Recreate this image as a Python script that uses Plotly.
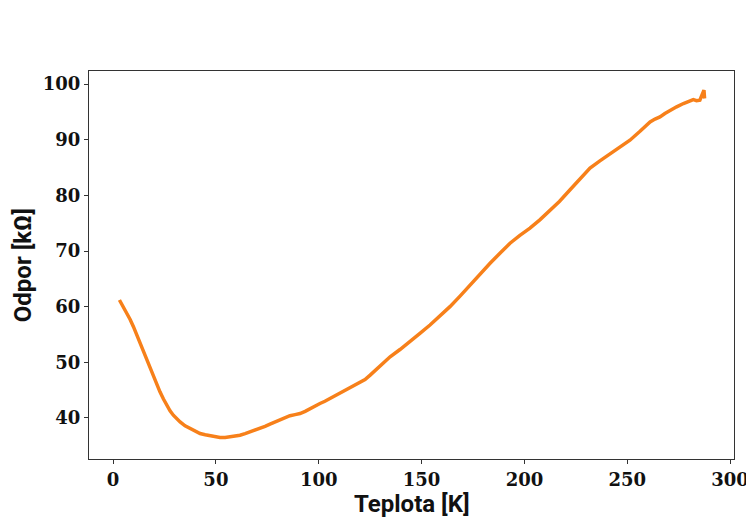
import plotly.graph_objects as go

# Temperature [K] and resistance [kOhm]
teplota = [3.1, 4.5, 6.6, 8.3, 9.9, 11.5, 13.1, 14.8, 16.4, 18.0, 19.6, 21.2, 22.8, 24.5,
           26.1, 27.7, 29.3, 31.0, 32.6, 35.0, 37.4, 40.0, 42.3, 44.8, 47.2, 49.5, 52.0,
           54.5, 56.9, 59.3, 61.7, 64.2, 66.6, 69.0, 71.5, 73.9, 76.3, 78.8, 81.2, 83.6,
           86.0, 88.5, 90.9, 93.4, 95.8, 98.2, 100.6, 103.0, 105.5, 108.0, 110.4, 112.8,
           115.2, 117.6, 120.1, 122.5, 125.0, 129.8, 134.7, 139.5, 144.4, 149.2, 154.1,
           159.0, 163.8, 168.7, 173.6, 178.4, 183.3, 188.1, 193.0, 197.8, 202.7, 207.5,
           212.4, 217.0, 222.2, 227.0, 231.9, 236.7, 241.6, 246.5, 251.3, 256.2, 261.1,
           263.5, 265.9, 268.3, 270.8, 274.0, 277.3, 279.7, 282.1, 283.7, 285.3, 286.3,
           287.3, 287.6]
odpor = [61.2, 60.3, 58.8, 57.7, 56.4, 54.9, 53.4, 51.9, 50.4, 48.9, 47.4, 46.0, 44.7, 43.4,
         42.3, 41.3, 40.5, 39.8, 39.3, 38.6, 38.1, 37.6, 37.2, 37.0, 36.8, 36.6, 36.5,
         36.5, 36.6, 36.7, 36.9, 37.2, 37.5, 37.8, 38.1, 38.5, 38.9, 39.3, 39.8, 40.1,
         40.4, 40.6, 40.8, 41.2, 41.7, 42.1, 42.6, 43.0, 43.5, 43.9, 44.4, 44.8,
         45.3, 45.8, 46.3, 46.9, 47.7, 49.3, 51.0, 52.3, 53.7, 55.2, 56.7,
         58.3, 60.0, 61.9, 63.9, 65.9, 67.8, 69.6, 71.4, 72.8, 74.1, 75.6,
         77.2, 78.9, 81.0, 82.9, 84.9, 86.2, 87.5, 88.7, 89.9, 91.5, 93.2,
         93.7, 94.1, 94.7, 95.3, 95.9, 96.5, 96.9, 97.2, 97.0, 97.1, 98.0,
         98.9, 97.4]

x_ticks = [0, 50, 100, 150, 200, 250, 300]
y_ticks = [40, 50, 60, 70, 80, 90, 100]

fig = go.Figure()
fig.add_trace(go.Scatter(x=teplota, y=odpor, mode="lines",
                         line=dict(color="#f7801a", width=3.5), showlegend=False))

tickfont = dict(family="DejaVu Serif", size=18, color="#111111", weight="bold")
axis_common = dict(showgrid=False, zeroline=False, showline=True, linecolor="#333333",
                   linewidth=1, mirror=True, ticks="outside", ticklen=4, tickwidth=1,
                   tickcolor="#333333", tickfont=tickfont, ticklabeloverflow="allow",
                   automargin=False)

fig.update_xaxes(range=[-11.7, 301.9], tickvals=x_ticks, ticktext=[str(v) for v in x_ticks],
                 **axis_common)
fig.update_yaxes(range=[32.63, 102.34], tickvals=y_ticks, ticktext=[str(v) for v in y_ticks],
                 **axis_common)

labelfont = dict(family="Roboto", size=24, color="#111111", weight="bold")
fig.add_annotation(text="Teplota [K]", xref="paper", yref="paper", x=0.5, y=-0.115,
                   xanchor="center", yanchor="middle", showarrow=False, font=labelfont)
fig.add_annotation(text="Odpor [kΩ]", xref="paper", yref="paper", x=-0.102, y=0.5,
                   xanchor="center", yanchor="middle", textangle=-90, showarrow=False,
                   font=labelfont)

fig.update_layout(width=746, height=520, margin=dict(l=89, r=12, t=71, b=61),
                  plot_bgcolor="white", paper_bgcolor="white")

fig.write_html("out.html")
